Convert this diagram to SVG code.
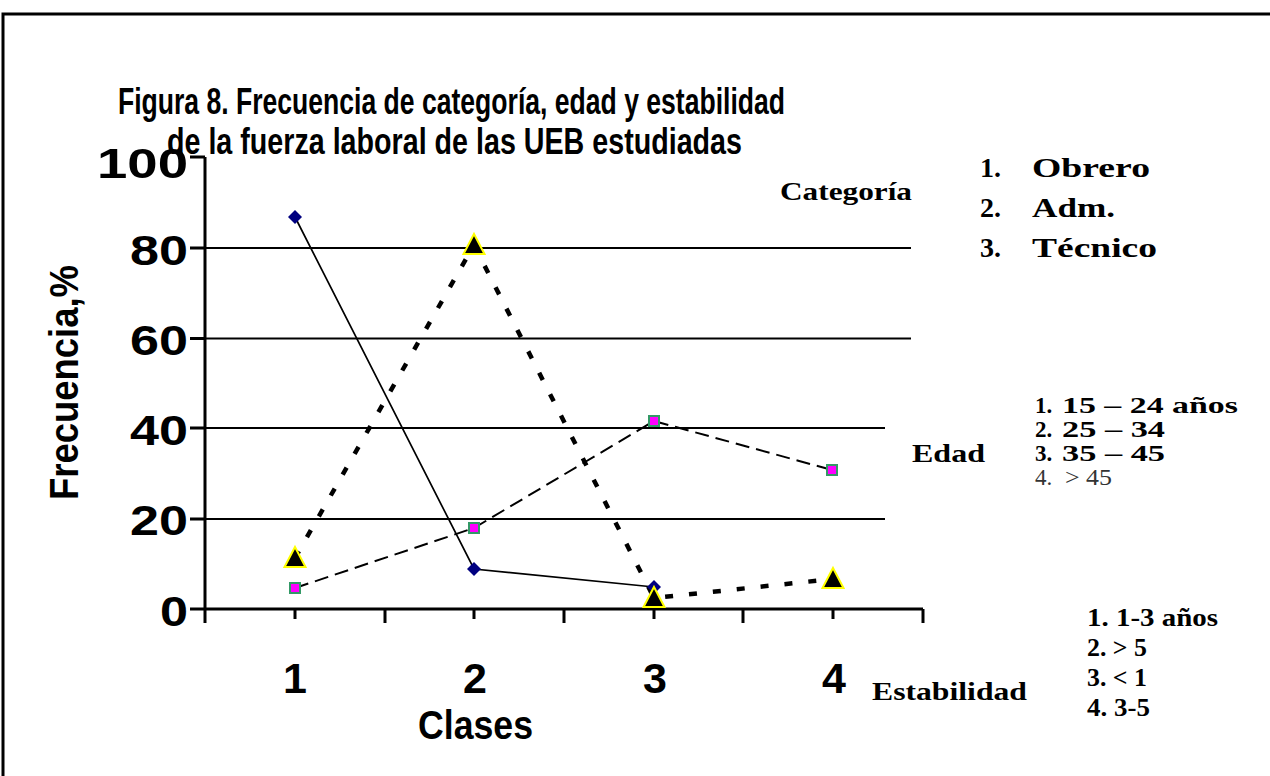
<svg xmlns="http://www.w3.org/2000/svg" width="1270" height="776" viewBox="0 0 1270 776">
<style>
.ttl{font-family:"Liberation Sans",Arial,sans-serif;font-weight:bold;font-size:37px;fill:#000}
.ax{font-family:"Liberation Sans",Arial,sans-serif;font-weight:bold;font-size:43px;fill:#000}
.lg{font-family:"Liberation Serif","Times New Roman",serif;font-weight:bold;font-size:26px;fill:#000}
.lgs{font-family:"Liberation Serif","Times New Roman",serif;font-weight:bold;font-size:23px;fill:#000}
.lgb{font-family:"Liberation Serif","Times New Roman",serif;font-weight:bold;font-size:28px;fill:#000}
.lgn{font-family:"Liberation Serif","Times New Roman",serif;font-size:23px;fill:#333}
.grid{stroke:#000;stroke-width:2;fill:none}
.axis{stroke:#000;stroke-width:3;fill:none}
.s1{stroke:#000;stroke-width:1.7;fill:none}
.s2{stroke:#000;stroke-width:2;fill:none;stroke-dasharray:14 7}
.s3{stroke:#000;stroke-width:4.5;fill:none;stroke-dasharray:8 16}
</style>
<defs>
<path id="dia" d="M0,-7 L7,0 L0,7 L-7,0Z" fill="#000080"/>
<rect id="sq" x="-5" y="-5" width="10" height="10" fill="#FF00FF" stroke="#339966" stroke-width="2"/>
<path id="tri" d="M0,-11 L10.5,9 L-10.5,9Z" fill="#000" stroke="#FFFF00" stroke-width="2"/>
<clipPath id="clipEst"><rect x="1080" y="595" width="180" height="123"/></clipPath>
</defs>
<rect width="1270" height="776" fill="#fff"/>
<g id="frame"><path d="M3,776 V14 H1270" stroke="#000" stroke-width="3" fill="none"/></g>
<g id="title">
<text class="ttl" x="118" y="114" textLength="667" lengthAdjust="spacingAndGlyphs">Figura 8. Frecuencia de categoría, edad y estabilidad</text>
<text class="ttl" x="167" y="154" textLength="575" lengthAdjust="spacingAndGlyphs">de la fuerza laboral de las UEB estudiadas</text>
</g>
<g id="gridlines">
<line class="grid" x1="205" y1="248" x2="911" y2="248"/>
<line class="grid" x1="205" y1="338.6" x2="911" y2="338.6"/>
<line class="grid" x1="205" y1="428" x2="885" y2="428"/>
<line class="grid" x1="205" y1="519" x2="885" y2="519"/>
</g>
<g id="axes">
<line class="axis" x1="205" y1="157" x2="205" y2="609"/>
<line class="axis" x1="190" y1="609" x2="923" y2="609"/>
<path class="axis" d="M190,157H205M190,248H205M190,338.6H205M190,428H205M190,519H205"/>
<path class="axis" d="M205,609V623M385,609V623M564,609V623M743,609V623M923,609V623M295,609V619M474,609V619M654,609V619M833,609V619"/>
</g>
<g id="yLabels">
<text class="ax" x="97" y="178" textLength="91" lengthAdjust="spacingAndGlyphs">100</text>
<text class="ax" x="130" y="265" textLength="58" lengthAdjust="spacingAndGlyphs">80</text>
<text class="ax" x="130" y="355" textLength="58" lengthAdjust="spacingAndGlyphs">60</text>
<text class="ax" x="130" y="445" textLength="58" lengthAdjust="spacingAndGlyphs">40</text>
<text class="ax" x="130" y="535" textLength="58" lengthAdjust="spacingAndGlyphs">20</text>
<text class="ax" x="160" y="626" textLength="28" lengthAdjust="spacingAndGlyphs">0</text>
</g>
<g id="xLabels">
<text class="ax" x="295" y="693" text-anchor="middle">1</text>
<text class="ax" x="475" y="693" text-anchor="middle">2</text>
<text class="ax" x="655" y="693" text-anchor="middle">3</text>
<text class="ax" x="834" y="693" text-anchor="middle">4</text>
</g>
<g id="axisTitles">
<text class="ttl" x="418" y="739" textLength="115" lengthAdjust="spacingAndGlyphs" style="font-size:40px">Clases</text>
<text class="ttl" transform="translate(78,500) rotate(-90)" textLength="235" lengthAdjust="spacingAndGlyphs" style="font-size:40px">Frecuencia,%</text>
</g>
<g id="connectors">
<polyline class="s1" points="295,217 474,569 654,587"/>
<polyline class="s2" points="295,588 474,528 654,421 832,470"/>
<polyline class="s3" points="295,558 474,245 654,598 833,579"/>
</g>
<g id="series1">
<use href="#dia" x="295" y="217"/><use href="#dia" x="474" y="569"/><use href="#dia" x="654" y="587"/>
</g>
<g id="series2">
<use href="#sq" x="295" y="588"/><use href="#sq" x="474" y="528"/><use href="#sq" x="654" y="421"/><use href="#sq" x="832" y="470"/>
</g>
<g id="series3">
<use href="#tri" x="295" y="558"/><use href="#tri" x="474" y="245"/><use href="#tri" x="654" y="598"/><use href="#tri" x="833" y="579"/>
</g>
<g id="legendCategoria">
<text class="lg" x="780" y="200" textLength="132" lengthAdjust="spacingAndGlyphs">Categoría</text>
<text class="lgb" x="980" y="177">1.</text><text class="lgb" x="1032" y="177" textLength="118" lengthAdjust="spacingAndGlyphs">Obrero</text>
<text class="lgb" x="980" y="217">2.</text><text class="lgb" x="1032" y="217" textLength="83" lengthAdjust="spacingAndGlyphs">Adm.</text>
<text class="lgb" x="980" y="257">3.</text><text class="lgb" x="1032" y="257" textLength="125" lengthAdjust="spacingAndGlyphs">Técnico</text>
</g>
<g id="legendEdad">
<text class="lg" x="912" y="462" textLength="73" lengthAdjust="spacingAndGlyphs">Edad</text>
<text class="lgs" x="1035" y="413">1.</text><text class="lgs" x="1062" y="413" textLength="176" lengthAdjust="spacingAndGlyphs">15 – 24 años</text>
<text class="lgs" x="1035" y="437">2.</text><text class="lgs" x="1062" y="437" textLength="103" lengthAdjust="spacingAndGlyphs">25 – 34</text>
<text class="lgs" x="1035" y="461">3.</text><text class="lgs" x="1062" y="461" textLength="103" lengthAdjust="spacingAndGlyphs">35 – 45</text>
<text class="lgn" x="1035" y="485">4.</text><text class="lgn" x="1065" y="485" textLength="47" lengthAdjust="spacingAndGlyphs">&gt; 45</text>
</g>
<g id="legendEstabilidad">
<text class="lg" x="872" y="700" textLength="155" lengthAdjust="spacingAndGlyphs">Estabilidad</text>
<g clip-path="url(#clipEst)">
<text class="lg" x="1087" y="626" textLength="131" lengthAdjust="spacingAndGlyphs">1. 1-3 años</text>
<text class="lg" x="1087" y="656" textLength="60" lengthAdjust="spacingAndGlyphs">2. &gt; 5</text>
<text class="lg" x="1087" y="686" textLength="60" lengthAdjust="spacingAndGlyphs">3. &lt; 1</text>
<text class="lg" x="1087" y="716" textLength="63" lengthAdjust="spacingAndGlyphs">4. 3-5</text>
</g>
</g>
</svg>
